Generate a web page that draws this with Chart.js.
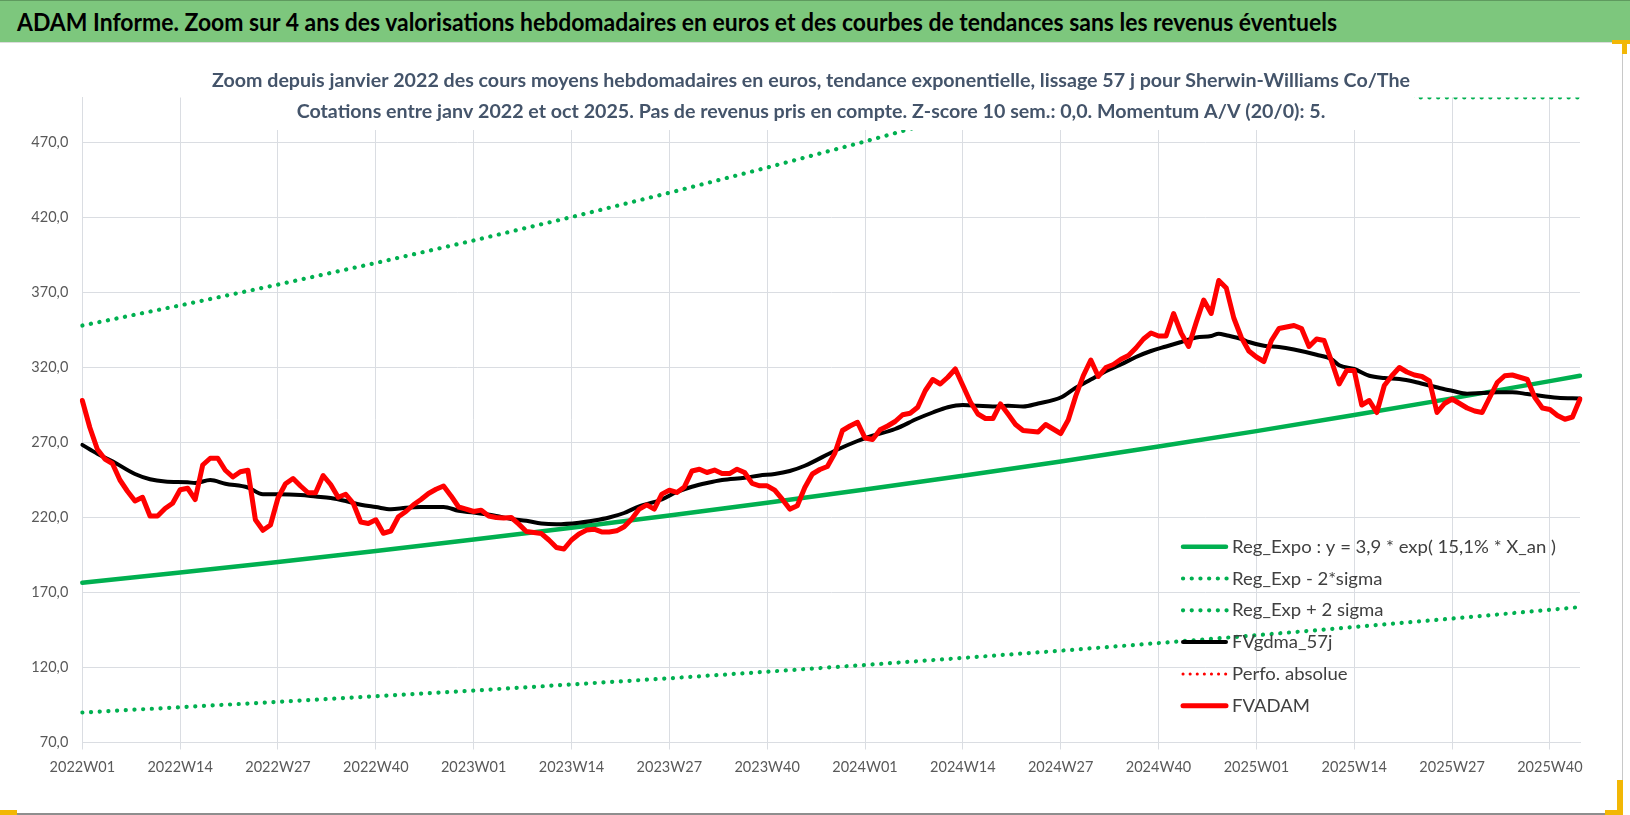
<!DOCTYPE html>
<html>
<head>
<meta charset="utf-8">
<script src="https://cdn.jsdelivr.net/npm/chart.js@4.4.1/dist/chart.umd.min.js"></script>
<style>
html,body{margin:0;padding:0;background:#fff;width:1630px;height:815px;overflow:hidden;}
#hdr{position:absolute;left:0;top:0;width:1630px;height:42px;box-sizing:border-box;background:#7DC77D;border-top:1px solid #5f9a5f;}
#hdrText{position:absolute;left:17px;top:2px;font-family:Lato,"DejaVu Sans",sans-serif;font-weight:700;font-size:25px;line-height:36px;color:#000;white-space:nowrap;transform-origin:0 50%;}
#wrap{position:absolute;left:0;top:42px;width:1622px;height:770px;border-top:1px solid #dcdcdc;border-right:1px solid #c8c8c8;border-bottom:2px solid #8e8e8e;}
#c{display:block;}
.hdl{position:absolute;background:#F2B705;}
</style>
</head>
<body>
<div id="hdr"><span id="hdrText">ADAM Informe. Zoom sur 4 ans des valorisations hebdomadaires en euros et des courbes de tendances sans les revenus éventuels</span></div>
<div id="wrap"><canvas id="c" width="1622" height="770"></canvas></div>
<div class="hdl" style="left:1612px;top:40px;width:18px;height:4px;"></div>
<div class="hdl" style="left:1622px;top:40px;width:5px;height:14px;"></div>
<div class="hdl" style="left:0px;top:810px;width:17px;height:5px;"></div>
<div class="hdl" style="left:1617px;top:780px;width:6px;height:35px;"></div>
<div class="hdl" style="left:1605px;top:810px;width:18px;height:5px;"></div>
<script>
// ---------- DATA ----------
const yearWeeks = [[2022, 52], [2023, 52], [2024, 52], [2025, 44]];
const weekLabels = [];
yearWeeks.forEach(([yr, n]) => { for (let w = 1; w <= n; w++) weekLabels.push(yr + 'W' + String(w).padStart(2, '0')); });

const xTickLabels = ['2022W01','2022W14','2022W27','2022W40','2023W01','2023W14','2023W27','2023W40',
                     '2024W01','2024W14','2024W27','2024W40','2025W01','2025W14','2025W27','2025W40'];
const yTickValues = [70, 120, 170, 220, 270, 320, 370, 420, 470];

const subtitleLines = [
  'Zoom depuis janvier 2022 des cours moyens hebdomadaires en euros, tendance exponentielle, lissage 57 j pour Sherwin-Williams Co/The',
  'Cotations entre janv 2022 et oct 2025. Pas de revenus pris en compte. Z-score 10 sem.: 0,0. Momentum A/V (20/0): 5.'
];

const seriesNames = ['Reg_Expo : y = 3,9 * exp( 15,1% * X_an )', 'Reg_Exp - 2*sigma', 'Reg_Exp + 2 sigma',
                     'FVgdma_57j', 'Perfo. absolue', 'FVADAM'];

// FVADAM weekly values (2022W01 .. 2025W44)
const fvadam = [
  298,280,265.5,259,256,245,237.5,231,233.5,221,
  221,226,229.5,238.5,239.5,232,255,259.5,259.5,251.5,
  247,250.5,251.5,218.5,211.5,215,233,242.5,246,241,
  236.5,236.5,248,242,233.5,235.5,229.5,217,216,218.5,
  209.5,211,220.5,224,228.5,232,236,238.8,241,234.4,
  227,225.6,224,224.9,221,220,219.6,220,215.6,210.7,
  210,209.3,205,200,199,205,209,211.6,212.2,210.4,
  210.4,211.1,213.8,219,225.6,228.4,225.6,235.6,238.2,236.7,
  240.4,251,252.2,250,251.6,249.3,249.3,252.2,250,242.7,
  241.1,241.1,238.2,232.2,225.6,227.8,240,249,252,254,
  263,278,281,283.5,273,272,278.5,281,284,288.5,
  289.5,293.5,304.5,312,309,313.5,319,308,297,289,
  286,286,295.7,289,282,278,277.5,277,282,279,
  276,285,301,314.5,325,314,320,322,325.5,328,
  333,339,343,341,341,356,343,334,350,365,
  356,378,373,353,340,331,327,324,338,346,
  347,348,346,334,339,338,324,309,318,318,
  295,298,290,308,314.5,320,317,315,314,311,
  290,296,299,296,293,291,290,300,310,314.5,
  315,313.5,312,300,293,292,288,285.5,287,299
];

// FVgdma_57j read at these week indices
const gdmaIdx = [0,2,4,7,9,11,14,15,17,19,22,24,26,29,31,33,35,37,39,41,43,45,48,50,52,55,57,59,61,63,
  66,68,70,72,74,77,79,81,83,85,88,90,92,94,96,100,103,105,108,111,113,115,117,119,121,123,125,127,130,132,
  134,136,138,140,142,144,146,148,150,151,152,154,155,157,159,161,164,166,167,169,171,173,175,177,179,181,182,184,186,188,
  190,192,193,196,199];
const gdmaVal = [268.4,262.5,257.5,249,245.5,244,243.5,243,245,242.5,240,235.5,235.5,235,234,233,231,228.5,227,225.5,
  226.5,227,227,224.5,223.3,221,219,217.8,216,215.5,216.5,218,220,223,227.5,232,237,240.5,243,245,
  246.5,248,249,251,254.5,264.5,271,274.5,279,286,290,293.5,295,294.5,294,294.5,294,296,300,306.5,
  312,317.5,322,327,331,334,337,340,341,342.5,341.5,339,337,334.5,333.7,332,328.5,325.5,321.5,319,
  314.5,313,312.3,310.5,308,305.5,304.5,302.5,303,303.5,303.5,302.3,301.6,299.8,299.4];

// Trend lines read at quarterly week indices
const trendIdx = [0,13,26,39,52,65,78,91,104,117,130,143,156,169,182,195,199];
const regExpo  = [176.5,183.3,190.3,197.7,205.3,213.2,221.4,229.9,238.7,247.9,257.4,267.3,277.6,288.3,299.4,310.9,314.5];
const regLow   = [90.0,93.5,97.1,100.8,104.6,108.7,112.8,117.2,121.7,126.4,131.2,136.3,141.5,147.0,152.6,158.5,160.3];
const highIdx  = [0,13,26,39,52,65,78,91,104,117,125,199];
const regHigh  = [348,361.4,375.3,389.7,404.7,420.3,436.5,453.3,470.7,488.8,500,500];

// ---------- helpers ----------
function sparse(idx, vals) {
  const a = new Array(weekLabels.length).fill(null);
  idx.forEach((k, j) => { a[k] = vals[j]; });
  return a;
}
const GREEN = '#00B050', RED = '#FF0000', BLACK = '#000000';
const GRID = '#DADDE2';
const FONT = 'Lato, "DejaVu Sans", sans-serif';

// header title fit
(function () {
  const s = document.getElementById('hdrText');
  const w = s.getBoundingClientRect().width;
  s.style.transform = 'scaleX(' + (1320 / w) + ')';
})();

const subtitlePlugin = {
  id: 'subtitleBox',
  afterDatasetsDraw(chart) {
    const ctx = chart.ctx;
    ctx.save();
    ctx.fillStyle = '#ffffff';
    ctx.fillRect(208, 50, 1206, 37);
    ctx.font = 'bold 18.5px ' + FONT;
    const w1 = ctx.measureText(subtitleLines[0]).width;
    const sx = 1198 / w1;
    ctx.fillStyle = '#44546A';
    ctx.textAlign = 'center';
    ctx.textBaseline = 'alphabetic';
    [43.9, 74.9].forEach((by, k) => {
      ctx.save();
      ctx.translate(811, by);
      ctx.scale(sx, 1);
      ctx.fillText(subtitleLines[k], 0, 0);
      ctx.restore();
    });
    ctx.restore();
  }
};

const legendPlugin = {
  id: 'customLegend',
  afterDraw(chart) {
    const ctx = chart.ctx;
    const fs = 17;
    ctx.save();
    ctx.font = fs + 'px ' + FONT;
    const w0 = ctx.measureText(chart.data.datasets[0].label).width;
    const sx = 324 / w0;
    chart.data.datasets.forEach((ds, k) => {
      const y = 503.7 + k * 31.8;
      ctx.save();
      ctx.strokeStyle = ds.borderColor;
      ctx.lineWidth = ds.borderWidth;
      const dash = ds.borderDash || [];
      ctx.setLineDash(dash);
      ctx.lineCap = 'round';
      ctx.beginPath();
      if (dash.length) { ctx.moveTo(1183, y); ctx.lineTo(1227, y); }
      else { ctx.moveTo(1183, y); ctx.lineTo(1226, y); }
      ctx.stroke();
      ctx.restore();
      ctx.save();
      ctx.translate(1232, y + 0.36 * fs);
      ctx.scale(sx, 1);
      ctx.fillStyle = '#404040';
      ctx.textAlign = 'left';
      ctx.textBaseline = 'alphabetic';
      ctx.fillText(ds.label, 0, 0);
      ctx.restore();
    });
    ctx.restore();
  }
};

const dotDash = [0.1, 8.6];

new Chart(document.getElementById('c'), {
  type: 'line',
  data: {
    labels: weekLabels,
    datasets: [
      { label: seriesNames[0], data: sparse(trendIdx, regExpo), borderColor: GREEN, borderWidth: 4.5,
        borderCapStyle: 'round', borderJoinStyle: 'round', spanGaps: true, pointRadius: 0, order: 5 },
      { label: seriesNames[1], data: sparse(trendIdx, regLow), borderColor: GREEN, borderWidth: 4.2,
        borderDash: dotDash, borderCapStyle: 'round', spanGaps: true, pointRadius: 0, order: 4 },
      { label: seriesNames[2], data: sparse(highIdx, regHigh), borderColor: GREEN, borderWidth: 4.2,
        borderDash: dotDash, borderCapStyle: 'round', spanGaps: true, pointRadius: 0, order: 3 },
      { label: seriesNames[3], data: sparse(gdmaIdx, gdmaVal), borderColor: BLACK, borderWidth: 4,
        borderCapStyle: 'round', borderJoinStyle: 'round', cubicInterpolationMode: 'monotone',
        spanGaps: true, pointRadius: 0, order: 1 },
      { label: seriesNames[4], data: [], borderColor: RED, borderWidth: 3, borderDash: [0.1, 7],
        borderCapStyle: 'round', pointRadius: 0, order: 2 },
      { label: seriesNames[5], data: fvadam, borderColor: RED, borderWidth: 5,
        borderCapStyle: 'round', borderJoinStyle: 'round', pointRadius: 0, order: 0 }
    ]
  },
  options: {
    responsive: false,
    animation: false,
    events: [],
    layout: { padding: { top: 54.5, left: 0, right: 42, bottom: 0 } },
    plugins: { legend: { display: false }, tooltip: { enabled: false }, title: { display: false } },
    scales: {
      x: {
        type: 'category',
        offset: false,
        grid: { color: GRID, lineWidth: 1, drawTicks: true, tickLength: 7 },
        border: { display: true, color: GRID },
        afterBuildTicks: (axis) => { axis.ticks = axis.ticks.filter(t => xTickLabels.includes(weekLabels[t.value])); },
        ticks: { autoSkip: false, maxRotation: 0, minRotation: 0, padding: 9, color: '#595959',
                 font: { family: FONT, size: 14.5 },
                 callback: function (v) { return weekLabels[v]; } },
        afterFit: (s) => { s.height = 70.5; }
      },
      y: {
        min: 70, max: 500,
        afterBuildTicks: (axis) => { axis.ticks = yTickValues.map(v => ({ value: v })); },
        grid: { color: GRID, lineWidth: 1, drawTicks: false },
        border: { display: true, color: GRID },
        ticks: { padding: 14, color: '#595959', font: { family: FONT, size: 14.5 },
                 callback: (v) => Number(v).toFixed(1).replace('.', ',') },
        afterFit: (s) => { s.width = 82.3; }
      }
    }
  },
  plugins: [subtitlePlugin, legendPlugin]
});
</script>
</body>
</html>
